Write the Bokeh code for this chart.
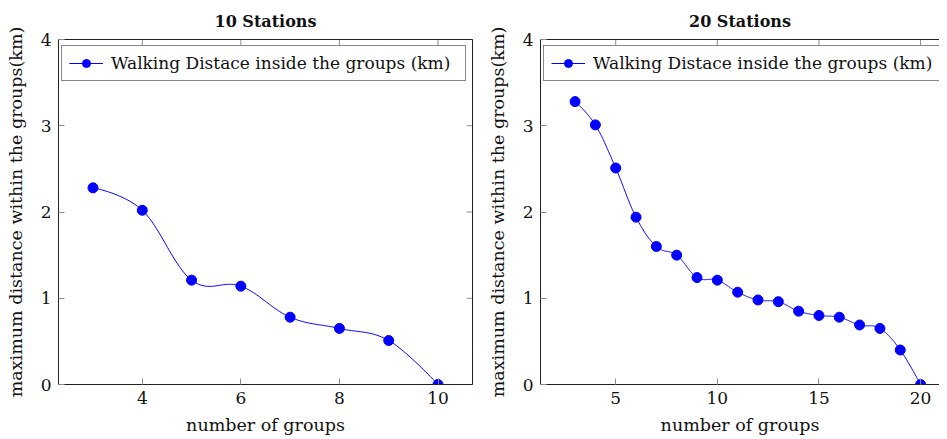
import numpy as np
from bokeh.plotting import figure
from bokeh.layouts import row
from bokeh.models import (LinearAxis, FixedTicker, Range1d, Legend, LegendItem)
from bokeh.embed import file_html
from bokeh.resources import INLINE

# ---- data ----
groups_10 = [3, 4, 5, 6, 7, 8, 9, 10]
dist_10 = [2.28, 2.02, 1.21, 1.14, 0.78, 0.65, 0.51, 0.0]

groups_20 = [3, 4, 5, 6, 7, 8, 9, 10, 11, 12, 13, 14, 15, 16, 17, 18, 19, 20]
dist_20 = [3.28, 3.01, 2.51, 1.94, 1.60, 1.50, 1.24, 1.21, 1.07, 0.98, 0.96,
           0.85, 0.80, 0.78, 0.69, 0.65, 0.40, 0.0]

xticks_10 = [4, 6, 8, 10]
xticks_20 = [5, 10, 15, 20]
yticks = [0, 1, 2, 3, 4]

titles = ["10 Stations", "20 Stations"]
legend_label = "Walking Distace inside the groups (km)"
x_label = "number of groups"
y_label = "maximum distance within the groups(km)"

SERIF = "DejaVu Serif"
BLUE = "#0000ff"
INK = "#111111"
AXIS = "#222222"
TICK = "#8c8c8c"


def smooth(xs, ys, tension=0.55, n=30):
    """pgf-style smooth curve (cubic Bezier through data points)."""
    p = np.column_stack([xs, ys]).astype(float)
    k = tension / 3.0
    m = len(p)
    out = []
    for i in range(m - 1):
        p0, p3 = p[i], p[i + 1]
        c1 = p0 if i == 0 else p0 + k * (p[i + 1] - p[i - 1])
        c2 = p3 if i == m - 2 else p3 - k * (p[i + 2] - p[i])
        t = np.linspace(0, 1, n)[:, None]
        seg = ((1 - t) ** 3) * p0 + 3 * ((1 - t) ** 2) * t * c1 + 3 * (1 - t) * t ** 2 * c2 + t ** 3 * p3
        out.append(seg if i == 0 else seg[1:])
    c = np.vstack(out)
    return c[:, 0], c[:, 1]


def style_axis(ax, ticks):
    ax.ticker = FixedTicker(ticks=ticks)
    ax.axis_line_color = AXIS
    ax.axis_line_width = 1
    ax.major_tick_in = 6
    ax.major_tick_out = 0
    ax.major_tick_line_color = TICK
    ax.minor_tick_line_color = None
    ax.major_label_text_font = SERIF
    ax.major_label_text_font_size = "17px"
    ax.major_label_text_color = INK
    ax.major_label_standoff = 7
    ax.axis_label_text_font = SERIF
    ax.axis_label_text_font_size = "17.5px"
    ax.axis_label_text_font_style = "normal"
    ax.axis_label_text_color = INK


def make(xs, ys, xticks, title, x0, x1, border_left, frame_w, border_right, mirror_right=True):
    p = figure(frame_width=frame_w, frame_height=345,
               min_border_left=border_left, min_border_right=border_right,
               min_border_top=39, min_border_bottom=47,
               x_range=Range1d(x0, x1), y_range=Range1d(0, 4),
               output_backend="svg", toolbar_location=None,
               x_axis_type=None, y_axis_type=None, title=title)
    p.outline_line_color = None
    p.grid.visible = False
    p.title.align = "center"
    p.title.text_font = SERIF
    p.title.text_font_style = "bold"
    p.title.text_font_size = "16px"
    p.title.text_color = INK
    p.title.standoff = 17

    left = LinearAxis(axis_label=y_label)
    style_axis(left, yticks)
    left.axis_label_standoff = 12
    p.add_layout(left, "left")

    below = LinearAxis(axis_label=x_label)
    style_axis(below, xticks)
    below.axis_label_standoff = 8
    p.add_layout(below, "below")

    # top frame line (no labels)
    above = LinearAxis(ticker=FixedTicker(ticks=[]), axis_line_color=AXIS,
                       major_tick_line_color=None, minor_tick_line_color=None)
    p.add_layout(above, "above")

    # mirrored inward tick marks on the top edge
    p.scatter(xticks, [p.y_range.end] * len(xticks), marker="dash", angle=np.pi / 2,
              size=12, line_color=TICK, line_width=1)

    if mirror_right:
        right = LinearAxis(ticker=FixedTicker(ticks=[]), axis_line_color=AXIS,
                           major_tick_line_color=None, minor_tick_line_color=None)
        p.add_layout(right, "right")
        p.scatter([p.x_range.end] * len(yticks), yticks, marker="dash",
                  size=12, line_color=TICK, line_width=1)

    cx, cy = smooth(xs, ys)
    lr = p.line(cx, cy, line_color=BLUE, line_width=1)
    sr = p.scatter(xs, ys, size=10, fill_color=BLUE, line_color=BLUE)

    leg = Legend(items=[LegendItem(label=legend_label, renderers=[lr, sr])],
                 location=(3, 303), margin=0, padding=7, glyph_width=34,
                 glyph_height=20, label_standoff=8, spacing=0, label_width=347,
                 border_line_color=INK, border_line_width=1,
                 background_fill_color="white", background_fill_alpha=1,
                 label_text_font=SERIF, label_text_font_size="17px",
                 label_text_color=INK)
    p.add_layout(leg, "center")
    return p


p1 = make(groups_10, dist_10, xticks_10, titles[0], 2.3, 10.7, 58, 414, 12)
p2 = make(groups_20, dist_20, xticks_20, titles[1], 1.3, 20.93, 52, 399, 0, mirror_right=False)

layout = row(p1, p2)
open("out.html", "w").write(file_html(layout, INLINE))
